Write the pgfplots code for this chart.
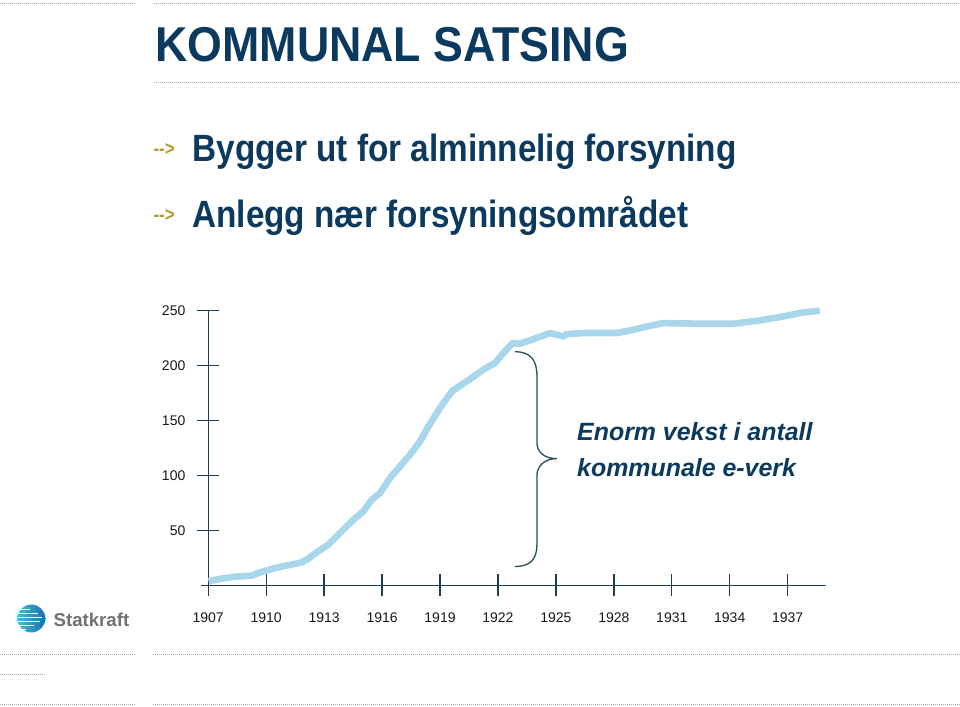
\documentclass[border=0pt]{standalone}
\usepackage{fontspec}
\setmainfont{Liberation Sans}
\usepackage{pgfplots}
\pgfplotsset{compat=1.18}
\definecolor{navy}{HTML}{0B3A5E}
\definecolor{gold}{HTML}{B39D2E}
\definecolor{axiscol}{HTML}{1E3C50}
\definecolor{curve}{HTML}{A8D6EB}
\definecolor{bracecol}{HTML}{2E4F5C}
\definecolor{dotgray}{HTML}{A8A8A8}
\definecolor{logogray}{HTML}{707174}
\definecolor{globeA}{RGB}{70,190,205}
\definecolor{globeB}{RGB}{25,110,180}
\begin{document}
\begin{tikzpicture}[x=0.75pt,y=-0.75pt]
\path[fill=white] (0,0) rectangle (960,707);
% dotted rules
\tikzset{dotrule/.style={dotgray, line width=0.6pt, dash pattern=on 0.75pt off 0.75pt}}
\draw[dotrule] (0,3) -- (135,3);
\draw[dotrule] (154,3) -- (960,3);
\draw[dotrule] (154,82) -- (960,82);
\draw[dotrule] (0,655) -- (136,655);
\draw[dotrule] (153,655) -- (960,655);
\draw[dotrule] (0,675) -- (45,675);
\draw[dotrule] (0,705) -- (136,705);
\draw[dotrule] (153,705) -- (960,705);
% title
\node[anchor=base west, inner sep=0pt, xscale=0.913, text=navy, font=\fontsize{36.75pt}{40pt}\selectfont\bfseries] at (155,62) {KOMMUNAL SATSING};
% bullets
\node[anchor=west, inner sep=0pt, xscale=0.85, text=gold, font=\fontsize{15pt}{16pt}\selectfont\bfseries] at (153,150) {-\kern0pt-\kern0pt>};
\node[anchor=west, inner sep=0pt, xscale=0.85, text=gold, font=\fontsize{15pt}{16pt}\selectfont\bfseries] at (153,216) {-\kern0pt-\kern0pt>};
\node[anchor=base west, inner sep=0pt, xscale=0.877, text=navy, font=\fontsize{28.5pt}{30pt}\selectfont\bfseries] at (192,162) {Bygger ut for alminnelig forsyning};
\node[anchor=base west, inner sep=0pt, xscale=0.877, text=navy, font=\fontsize{28.5pt}{30pt}\selectfont\bfseries] at (192,228) {Anlegg nær forsyningsområdet};
% logo
\begin{scope}
\clip (31,619) circle (14);
\shade[left color=globeA, right color=globeB] (17,605) rectangle (45,633);
\foreach \yy/\xx in {610/30,614/38,618/42,622/40,626/34,630/26} {
  \draw[white, line width=1.3pt] (16,\yy) -- (\xx,\yy);
}
\end{scope}
\node[anchor=base west, inner sep=0pt, text=logogray, font=\fontsize{14pt}{15pt}\selectfont\bfseries] at (53,627) {Statkraft};
% chart
\begin{axis}[
  at={(156pt,-439.275pt)}, anchor=south west,
  scale only axis, width=463.95pt, height=206.0pt,
  xmin=1907, xmax=1939, ymin=0, ymax=250,
  axis x line=bottom, axis y line=left,
  axis line style={draw=none},
  clip=false,
  xtick={1907,1910,...,1937},
  ytick={50,100,150,200,250},
  tick align=center,
  major tick length=16.5pt,
  tick style={axiscol, line width=1pt},
  /pgf/number format/assume math mode=true,
  /pgf/number format/1000 sep={},
  ticklabel style={font=\fontsize{10.5pt}{12pt}\selectfont, text=black!90},
  yticklabel style={anchor=east, inner sep=0pt, xshift=-8.75pt},
  xticklabel style={anchor=north, inner sep=0pt, yshift=-12.25pt},
]
\draw[axiscol, line width=1pt] (axis cs:1907,250) -- (axis cs:1907,-9.5);
\draw[axiscol, line width=1pt] (axis cs:1906.63,0) -- (axis cs:1939,0);
\addplot[curve, line width=5pt, line join=round, line cap=butt] coordinates {
(1907.02,3.6) (1907.62,5.8) (1908.31,7.6) (1909.26,8.8) (1909.69,11.8)
(1910.55,16.1) (1911.24,18.6) (1911.76,20.4) (1912.11,23.4) (1912.62,30.0)
(1913.22,37.0) (1913.83,47.7) (1914.52,59.8) (1915.03,67.3) (1915.47,78.0)
(1915.90,84.1) (1916.41,97.7) (1916.93,108.3) (1917.45,118.9) (1917.97,131.1)
(1918.40,144.7) (1919.00,161.5) (1919.61,176.6) (1920.38,185.7) (1921.24,196.3)
(1921.84,202.4) (1922.36,213.0) (1922.76,220.6) (1923.14,220.0) (1923.66,223.0)
(1924.69,229.7) (1925.38,226.6) (1925.55,228.8) (1926.41,229.7) (1928.14,229.7)
(1929.00,232.7) (1929.86,236.3) (1930.55,238.8) (1932.45,238.2) (1934.17,238.2)
(1935.55,241.2) (1936.76,244.8) (1937.79,248.5) (1938.66,250.0)
};
\end{axis}
% brace and annotation
\draw[bracecol, line width=1pt] (515,352) .. controls (530,352) and (537,360) .. (537,376) -- (537,443) .. controls (537,453) and (545,459) .. (557,459) .. controls (545,459) and (537,466) .. (537,476) -- (537,545) .. controls (537,560) and (530,567) .. (515,567);
\node[anchor=base west, inner sep=0pt, text=navy, font=\fontsize{18.7pt}{20pt}\selectfont\bfseries\itshape] at (577,441) {Enorm vekst i antall};
\node[anchor=base west, inner sep=0pt, text=navy, font=\fontsize{18.7pt}{20pt}\selectfont\bfseries\itshape] at (577,477) {kommunale e-verk};
\end{tikzpicture}
\end{document}
